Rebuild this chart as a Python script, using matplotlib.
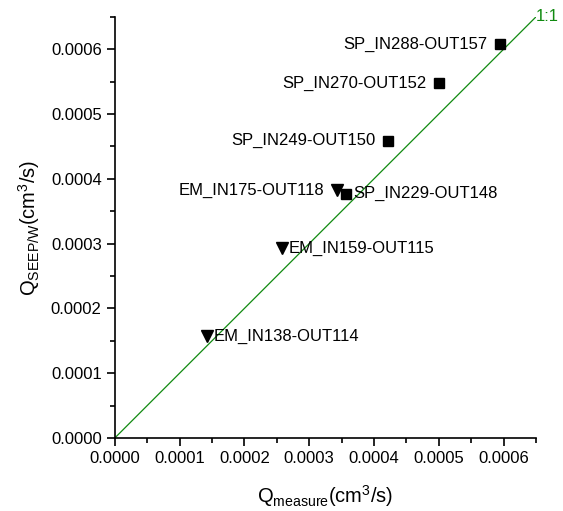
import matplotlib
matplotlib.use("Agg")
import matplotlib.pyplot as plt
from matplotlib.ticker import MultipleLocator, FormatStrFormatter

plt.rcParams['font.family'] = ['Liberation Sans', 'DejaVu Sans']
plt.rcParams['mathtext.fontset'] = 'custom'
plt.rcParams['mathtext.rm'] = 'Liberation Sans'

# SP samples (squares)
sp_names = ['SP_IN288-OUT157', 'SP_IN270-OUT152', 'SP_IN249-OUT150', 'SP_IN229-OUT148']
sp_measure = [0.000595, 0.000501, 0.000421, 0.000357]
sp_seep = [0.000608, 0.000548, 0.000459, 0.000377]
sp_side = ['left', 'left', 'left', 'right']

# EM samples (triangles)
em_names = ['EM_IN175-OUT118', 'EM_IN159-OUT115', 'EM_IN138-OUT114']
em_measure = [0.000343, 0.000258, 0.000142]
em_seep = [0.000382, 0.000293, 0.000157]
em_side = ['left', 'right', 'right']

lim = 0.00065

fig = plt.figure(figsize=(5.63, 5.11), dpi=100)
ax = fig.add_axes([0.204, 0.143, 0.748, 0.824])

# 1:1 line
ax.plot([0, lim], [0, lim], color='#108a10', lw=0.9)
ax.text(lim, lim, '1:1', color='#108a10', fontsize=12, ha='left', va='center')

ax.plot(sp_measure, sp_seep, 's', color='black', ms=7, ls='none', clip_on=False)
ax.plot(em_measure, em_seep, 'v', color='black', ms=8.5, ls='none', clip_on=False)

def put_labels(xs, ys, names, sides):
    for x, y, n, s in zip(xs, ys, names, sides):
        if s == 'left':
            ax.annotate(n, (x, y), xytext=(-9, 0), textcoords='offset points',
                        ha='right', va='center', fontsize=12)
        else:
            ax.annotate(n, (x, y), xytext=(5, 0), textcoords='offset points',
                        ha='left', va='center', fontsize=12)

put_labels(sp_measure, sp_seep, sp_names, sp_side)
put_labels(em_measure, em_seep, em_names, em_side)

ax.set_xlim(0, lim)
ax.set_ylim(0, lim)
ax.spines['top'].set_visible(False)
ax.spines['right'].set_visible(False)
for sp in ['left', 'bottom']:
    ax.spines[sp].set_linewidth(1.2)

ax.xaxis.set_major_locator(MultipleLocator(0.0001))
ax.yaxis.set_major_locator(MultipleLocator(0.0001))
ax.xaxis.set_minor_locator(MultipleLocator(0.00005))
ax.yaxis.set_minor_locator(MultipleLocator(0.00005))
ax.xaxis.set_major_formatter(FormatStrFormatter('%.4f'))
ax.yaxis.set_major_formatter(FormatStrFormatter('%.4f'))
ax.tick_params(which='major', direction='out', length=6, width=1.2, labelsize=12)
ax.tick_params(which='minor', direction='out', length=3.5, width=1.2)

ax.set_xlabel(r'Q$_{\mathregular{measure}}$(cm$^{\mathregular{3}}$/s)', fontsize=14.5, labelpad=12)
ax.set_ylabel(r'Q$_{\mathregular{SEEP/W}}$(cm$^{\mathregular{3}}$/s)', fontsize=14.5, labelpad=6)

plt.savefig('out.png', dpi=100)
